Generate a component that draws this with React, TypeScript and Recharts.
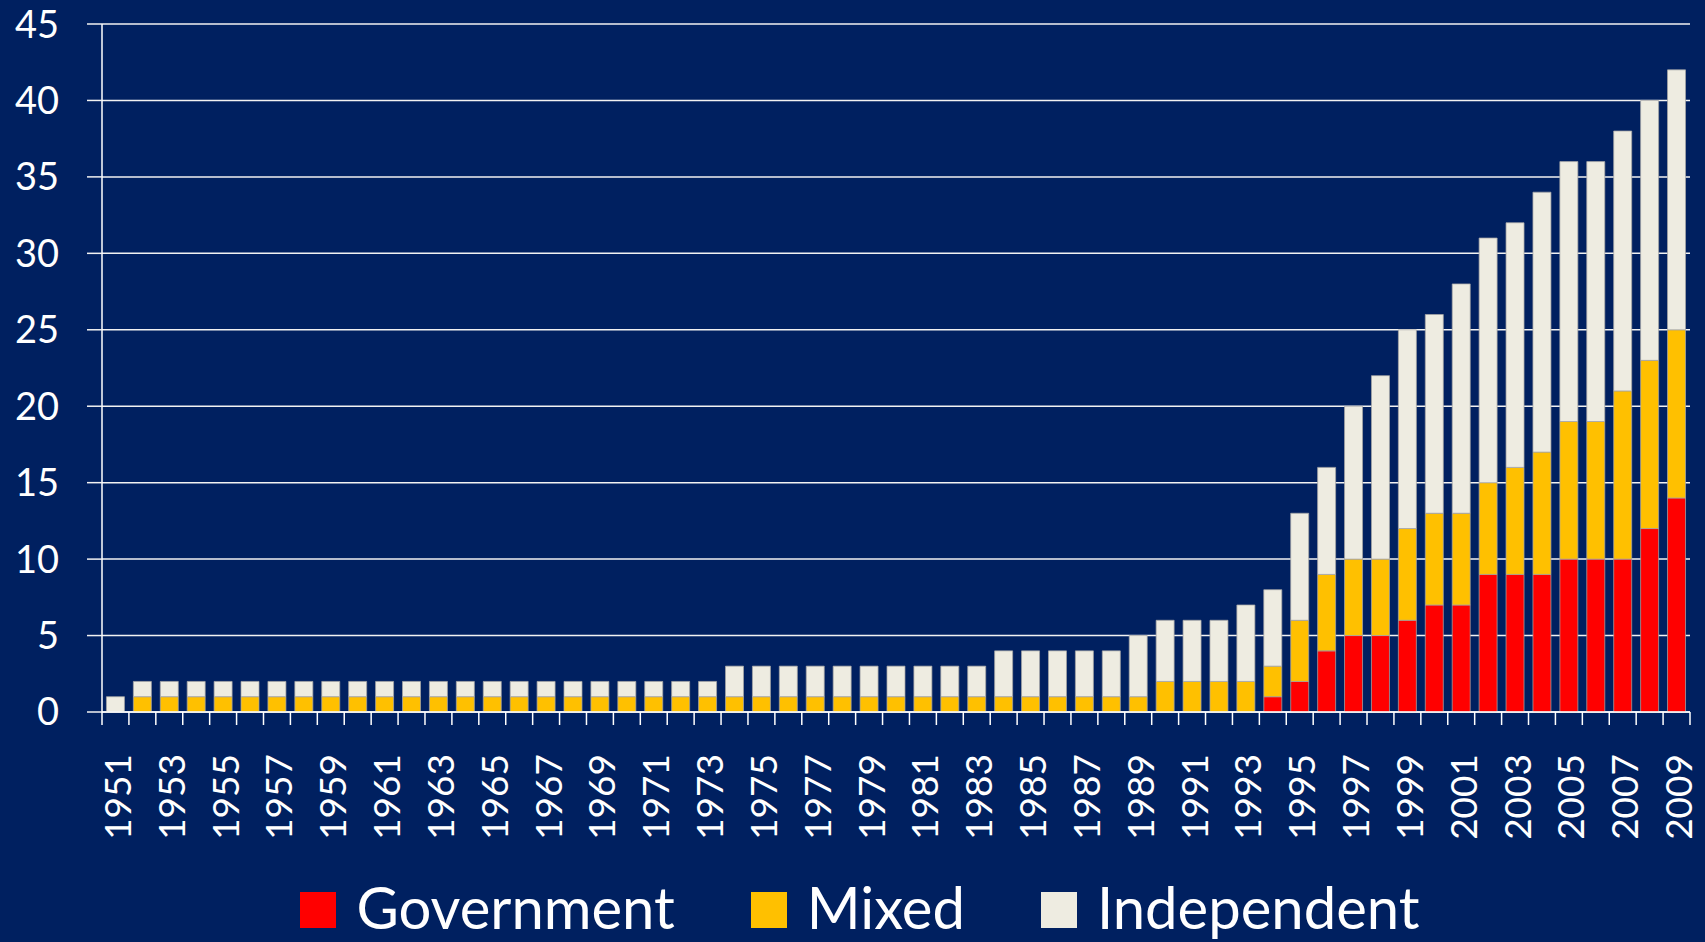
import React from 'react';
import { BarChart, Bar, XAxis, YAxis, CartesianGrid, Legend } from 'recharts';

const years = [
  '1951', '1952', '1953', '1954', '1955', '1956', '1957', '1958', '1959', '1960',
  '1961', '1962', '1963', '1964', '1965', '1966', '1967', '1968', '1969', '1970',
  '1971', '1972', '1973', '1974', '1975', '1976', '1977', '1978', '1979', '1980',
  '1981', '1982', '1983', '1984', '1985', '1986', '1987', '1988', '1989', '1990',
  '1991', '1992', '1993', '1994', '1995', '1996', '1997', '1998', '1999', '2000',
  '2001', '2002', '2003', '2004', '2005', '2006', '2007', '2008', '2009',
];

const government = [
  0, 0, 0, 0, 0, 0, 0, 0, 0, 0,
  0, 0, 0, 0, 0, 0, 0, 0, 0, 0,
  0, 0, 0, 0, 0, 0, 0, 0, 0, 0,
  0, 0, 0, 0, 0, 0, 0, 0, 0, 0,
  0, 0, 0, 1, 2, 4, 5, 5, 6, 7,
  7, 9, 9, 9, 10, 10, 10, 12, 14,
];

const mixed = [
  0, 1, 1, 1, 1, 1, 1, 1, 1, 1,
  1, 1, 1, 1, 1, 1, 1, 1, 1, 1,
  1, 1, 1, 1, 1, 1, 1, 1, 1, 1,
  1, 1, 1, 1, 1, 1, 1, 1, 1, 2,
  2, 2, 2, 2, 4, 5, 5, 5, 6, 6,
  6, 6, 7, 8, 9, 9, 11, 11, 11,
];

const independent = [
  1, 1, 1, 1, 1, 1, 1, 1, 1, 1,
  1, 1, 1, 1, 1, 1, 1, 1, 1, 1,
  1, 1, 1, 2, 2, 2, 2, 2, 2, 2,
  2, 2, 2, 3, 3, 3, 3, 3, 4, 4,
  4, 4, 5, 5, 7, 7, 10, 12, 13, 13,
  15, 16, 16, 17, 17, 17, 17, 17, 17,
];

const yTicks = [0, 5, 10, 15, 20, 25, 30, 35, 40, 45];

const seriesNames = ['Government', 'Mixed', 'Independent'];
const seriesColors = ['#FF0000', '#FFC000', '#EEECE1'];

const data = years.map((y, i) => ({
  year: y,
  Government: government[i],
  Mixed: mixed[i],
  Independent: independent[i],
}));

const BG = '#002060';
const FONT = 'Lato, "Open Sans", sans-serif';
const TICK_MARGIN = 42;
const TICK_MARK = 13;

const XTick = (props: any) => {
  const { x, y, payload, index } = props;
  const half = payload && typeof payload.offset === 'number' ? payload.offset : 0;
  const axisY = y - TICK_MARGIN;
  const isLast = index === years.length - 1;
  return (
    <g>
      <line x1={x - half} x2={x - half} y1={axisY} y2={axisY + TICK_MARK} stroke="#FFFFFF" strokeWidth={1.5} />
      {isLast && (
        <line x1={x + half} x2={x + half} y1={axisY} y2={axisY + TICK_MARK} stroke="#FFFFFF" strokeWidth={1.5} />
      )}
      {index % 2 === 0 && (
        <text
          x={x + 1}
          y={y}
          transform={`rotate(-90, ${x + 1}, ${y})`}
          textAnchor="end"
          dominantBaseline="central"
          fill="#FFFFFF"
          fontFamily={FONT}
          fontSize={37}
        >
          {payload.value}
        </text>
      )}
    </g>
  );
};

const LegendContent = () => {
  return (
    <div
      style={{
        height: 80,
        boxSizing: 'border-box',
        paddingTop: 16,
        display: 'flex',
        justifyContent: 'center',
        alignItems: 'flex-start',
        paddingLeft: 30,
      }}
    >
      {seriesNames.map((name, i) => (
        <div
          key={name}
          style={{
            display: 'flex',
            alignItems: 'center',
            height: 58,
            marginLeft: i === 0 ? 0 : 76,
          }}
        >
          <div style={{ width: 36, height: 36, background: seriesColors[i], marginRight: 20, marginTop: 6 }} />
          <span
            style={{
              fontFamily: FONT,
              fontSize: 58,
              color: '#FFFFFF',
              lineHeight: '58px',
              whiteSpace: 'nowrap',
            }}
          >
            {name}
          </span>
        </div>
      ))}
    </div>
  );
};

export default function App() {
  return (
    <div
      style={{
        position: 'absolute',
        left: 0,
        top: 0,
        width: 1705,
        height: 942,
        background: BG,
        overflow: 'hidden',
      }}
    >
      <BarChart
        width={1705}
        height={942}
        data={data}
        margin={{ top: 24, right: 15, bottom: 0, left: 0 }}
        barCategoryGap="16.5%"
      >
        <CartesianGrid horizontal vertical={false} stroke="#F2F2F2" strokeWidth={1.5} />
        <XAxis
          dataKey="year"
          interval={0}
          height={150}
          tickSize={0}
          tickMargin={TICK_MARGIN}
          tickLine={false}
          axisLine={{ stroke: '#FFFFFF', strokeWidth: 1.5 }}
          tick={<XTick />}
        />
        <YAxis
          width={102}
          domain={[0, 45]}
          ticks={yTicks}
          interval={0}
          tickSize={15}
          tickMargin={28}
          tickLine={{ stroke: '#F2F2F2', strokeWidth: 1.5 }}
          axisLine={{ stroke: '#FFFFFF', strokeWidth: 1.5 }}
          tick={{ fill: '#FFFFFF', fontSize: 38, fontFamily: FONT }}
        />
        <Legend verticalAlign="bottom" height={80} content={<LegendContent />} />
        {seriesNames.map((name, i) => (
          <Bar
            key={name}
            dataKey={name}
            name={name}
            stackId="a"
            fill={seriesColors[i]}
            stroke="#A6A6A6"
            strokeWidth={0.75}
            isAnimationActive={false}
          />
        ))}
      </BarChart>
    </div>
  );
}
